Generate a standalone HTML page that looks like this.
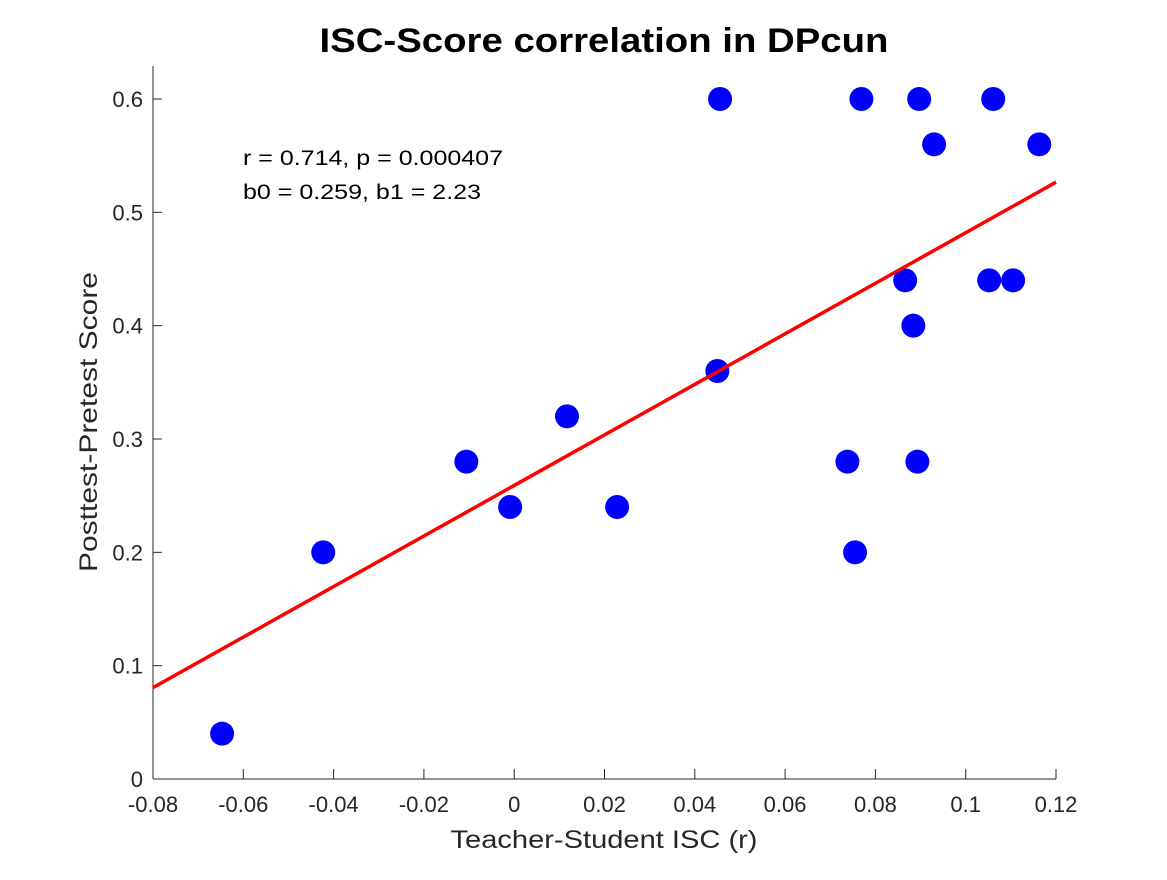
<!DOCTYPE html>
<html><head><meta charset="utf-8"><style>
body{margin:0;background:#fff;}
svg text{font-family:"Liberation Sans",Helvetica,Arial,sans-serif;fill:#262626;}
</style></head><body>
<svg id="chart" width="1167" height="875" viewBox="0 0 1167 875">
<rect width="1167" height="875" fill="#fff"/>
<text x="604" y="52" text-anchor="middle" font-size="34" font-weight="bold" textLength="569" lengthAdjust="spacingAndGlyphs" style="fill:#000">ISC-Score correlation in DPcun</text>
<g id="axes"></g>
<g id="marks"></g>
<text x="243" y="165" font-size="21" textLength="260" lengthAdjust="spacingAndGlyphs" style="fill:#000">r = 0.714, p = 0.000407</text>
<text x="243" y="199" font-size="21" textLength="238" lengthAdjust="spacingAndGlyphs" style="fill:#000">b0 = 0.259, b1 = 2.23</text>
<text x="604" y="848" text-anchor="middle" font-size="25" textLength="307" lengthAdjust="spacingAndGlyphs">Teacher-Student ISC (r)</text>
<text transform="translate(97,422) rotate(-90)" text-anchor="middle" font-size="25" textLength="300" lengthAdjust="spacingAndGlyphs">Posttest-Pretest Score</text>
</svg>
<script>
const xVals=[-0.0647,-0.0423,-0.0106,-0.0009,0.0117,0.0228,0.045,0.0456,0.0738,0.0755,0.0769,0.0866,0.0884,0.0893,0.0897,0.093,0.1052,0.1061,0.1105,0.1163];
const yVals=[0.04,0.2,0.28,0.24,0.32,0.24,0.36,0.6,0.28,0.2,0.6,0.44,0.4,0.28,0.6,0.56,0.44,0.6,0.44,0.56];
const xTicks=[-0.08,-0.06,-0.04,-0.02,0,0.02,0.04,0.06,0.08,0.1,0.12];
const xTickLabels=["-0.08","-0.06","-0.04","-0.02","0","0.02","0.04","0.06","0.08","0.1","0.12"];
const yTicks=[0,0.1,0.2,0.3,0.4,0.5,0.6];
const yTickLabels=["0","0.1","0.2","0.3","0.4","0.5","0.6"];
const fitB0=0.259, fitB1=2.23;
const X0=153,X1=1056,Y0=779,Y1=99;
const xs=v=>X0+(v-(-0.08))/0.2*(X1-X0);
const ys=v=>Y0-(v-0)/0.6*(Y0-Y1);
const NS="http://www.w3.org/2000/svg";
function mk(t,a,p){const e=document.createElementNS(NS,t);for(const k in a)e.setAttribute(k,a[k]);p.appendChild(e);return e;}
const ax=document.getElementById('axes'),mg=document.getElementById('marks');
let l=mk('line',{x1:X0,y1:Y0,x2:X1,y2:Y0,stroke:'#262626','stroke-width':1},ax);


l=mk('line',{x1:X0,y1:Y0,x2:X0,y2:66,stroke:'#262626','stroke-width':1},ax);


xTicks.forEach((v,i)=>{const x=xs(v);
 const t=mk('line',{x1:x,y1:Y0,x2:x,y2:Y0-10,stroke:'#262626'},ax);
 
 
 const tx=mk('text',{x:x,y:Y0+33,'text-anchor':'middle','font-size':22},ax);tx.textContent=xTickLabels[i];
 
 
});
yTicks.forEach((v,i)=>{const y=ys(v);
 const t=mk('line',{x1:X0,y1:y,x2:X0+9,y2:y,stroke:'#262626'},ax);
 
 
 const tx=mk('text',{x:X0-10,y:y+8,'text-anchor':'end','font-size':22},ax);tx.textContent=yTickLabels[i];
 
 
});
xVals.forEach((v,i)=>{
 const c=mk('circle',{cx:xs(v),cy:ys(yVals[i]),r:12,fill:'#0000ff'},mg);
 
 
});
const fl=mk('line',{x1:xs(-0.08),y1:ys(fitB0+fitB1*-0.08),x2:xs(0.12),y2:ys(fitB0+fitB1*0.12),stroke:'#ff0000','stroke-width':3.5},mg);


</script>
</body></html>
